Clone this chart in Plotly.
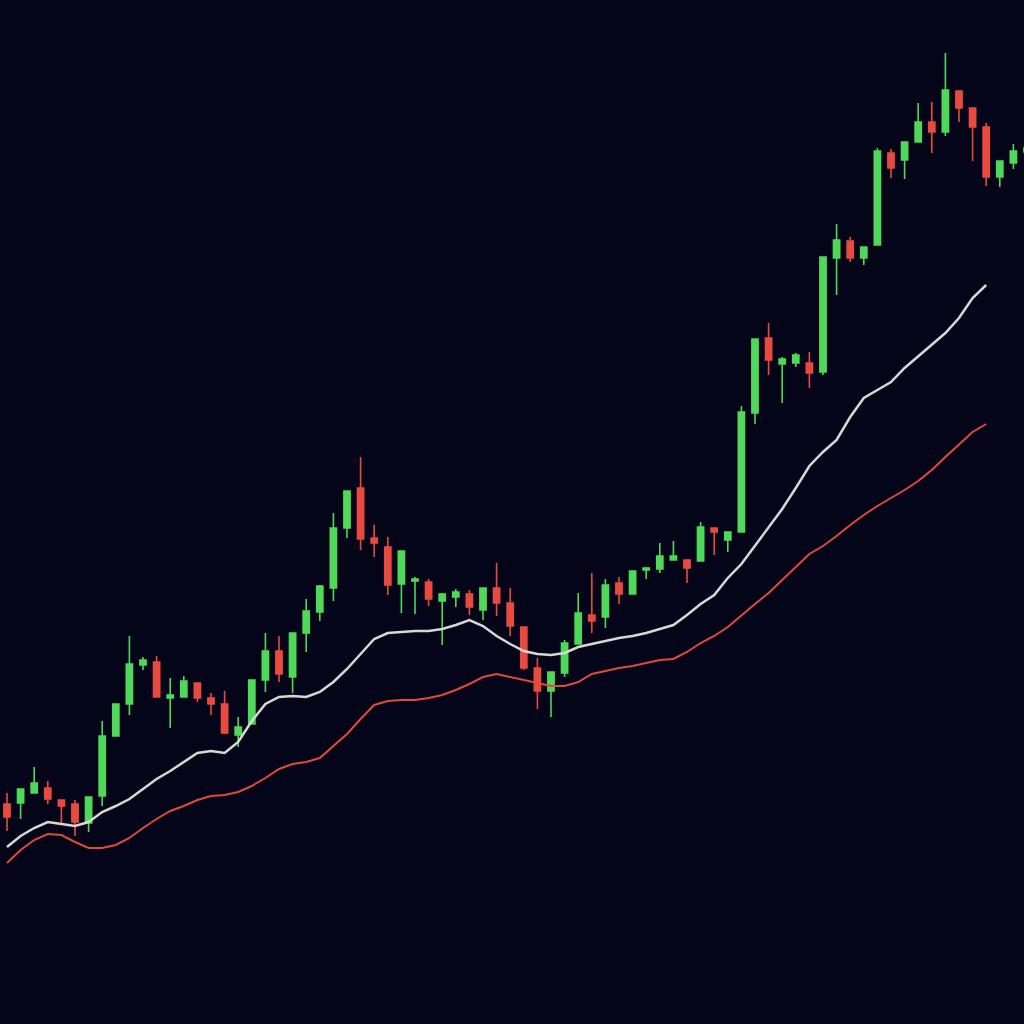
import plotly.graph_objects as go

# candle index
idx = list(range(76))

opens = [220, 221, 231, 236, 224, 220, 201, 228, 288, 320, 359, 362, 326, 327, 341, 326, 320, 289, 300, 344,
         373, 347, 391, 412, 436, 496, 536, 486, 477, 440, 443, 442, 423, 427, 430, 414, 436, 421, 397, 356,
         333, 351, 380, 409, 407, 441, 430, 454, 455, 464, 464, 463, 496, 484, 492, 611, 686, 660, 661, 661,
         652, 766, 783, 766, 779, 871, 864, 882, 902, 892, 933, 916, 897, 847, 861, 872]
highs = [231, 235, 257, 243, 224, 224, 227, 303, 320, 388, 367, 368, 346, 348, 341, 331, 333, 307, 344, 391,
         388, 391, 425, 439, 511, 533, 567, 499, 487, 473, 447, 445, 431, 435, 434, 436, 461, 436, 397, 366,
         352, 384, 431, 451, 445, 447, 453, 457, 481, 483, 464, 502, 496, 492, 618, 685, 701, 667, 671, 672,
         767, 800, 787, 777, 876, 875, 882, 921, 922, 971, 933, 916, 901, 863, 880, 878]
lows = [193, 205, 231, 220, 200, 188, 192, 218, 288, 309, 354, 327, 296, 327, 322, 309, 290, 277, 300, 332,
        342, 331, 372, 403, 423, 486, 474, 467, 429, 411, 410, 418, 379, 417, 409, 404, 408, 388, 354, 315,
        307, 347, 380, 391, 396, 420, 430, 445, 451, 464, 441, 463, 469, 472, 492, 600, 649, 621, 657, 636,
        649, 729, 762, 759, 779, 846, 845, 882, 871, 888, 902, 863, 838, 837, 855, 868]
closes = [207, 235, 241, 225, 218, 202, 227, 288, 320, 360, 364, 327, 329, 343, 326, 320, 291, 297, 344, 373,
          350, 391, 413, 438, 496, 533, 485, 481, 439, 473, 445, 425, 430, 432, 417, 436, 421, 398, 356, 333,
          352, 381, 411, 403, 439, 430, 453, 456, 468, 468, 456, 497, 492, 492, 612, 685, 664, 665, 669, 651,
          767, 784, 766, 777, 873, 856, 882, 902, 892, 934, 916, 897, 847, 863, 873, 876]

ma_fast = [177, 188, 196, 202, 200, 198, 202, 212, 218, 225, 235, 245, 253, 262, 271, 273, 271, 282, 303, 320,
           327, 328, 327, 332, 342, 355, 370, 385, 391, 392, 393, 393, 395, 399, 404, 398, 388, 380, 373, 370,
           369, 371, 377, 380, 383, 386, 388, 391, 395, 399, 409, 420, 429, 446, 460, 478, 496, 515, 536, 558,
           572, 584, 607, 626, 634, 642, 656, 668, 680, 691, 706, 726, 739]
ma_slow = [161, 174, 184, 190, 189, 182, 176, 176, 179, 186, 196, 205, 213, 218, 224, 228, 229, 232, 238, 246,
           255, 260, 262, 266, 278, 290, 305, 319, 323, 324, 324, 326, 329, 334, 340, 347, 350, 347, 344, 341,
           338, 338, 342, 350, 353, 356, 358, 361, 364, 365, 372, 381, 388, 397, 409, 420, 431, 444, 458, 470,
           478, 488, 499, 509, 518, 526, 534, 543, 554, 567, 579, 592, 600]

GREEN = "#4fd85a"
RED = "#e94a40"

fig = go.Figure()
fig.add_trace(go.Scatter(x=idx[:len(ma_slow)], y=ma_slow, mode="lines",
                         line=dict(color="#e0493c", width=2), hoverinfo="skip"))
fig.add_trace(go.Scatter(x=idx[:len(ma_fast)], y=ma_fast, mode="lines",
                         line=dict(color="#d8d8d0", width=2.5), hoverinfo="skip"))
fig.add_trace(go.Candlestick(
    x=idx, open=opens, high=highs, low=lows, close=closes,
    increasing=dict(line=dict(color=GREEN, width=1.6), fillcolor=GREEN),
    decreasing=dict(line=dict(color=RED, width=1.6), fillcolor=RED),
    whiskerwidth=0,
))

fig.update_layout(
    width=1024, height=1024,
    margin=dict(l=0, r=0, t=0, b=0),
    paper_bgcolor="#05051a", plot_bgcolor="#05051a",
    showlegend=False,
    boxgap=0.35,
    xaxis=dict(range=[-0.515, 74.78], showgrid=False, zeroline=False, showticklabels=False,
               rangeslider=dict(visible=False), visible=False),
    yaxis=dict(range=[0, 1024], showgrid=False, zeroline=False, showticklabels=False, visible=False),
)

fig.write_html("out.html")
